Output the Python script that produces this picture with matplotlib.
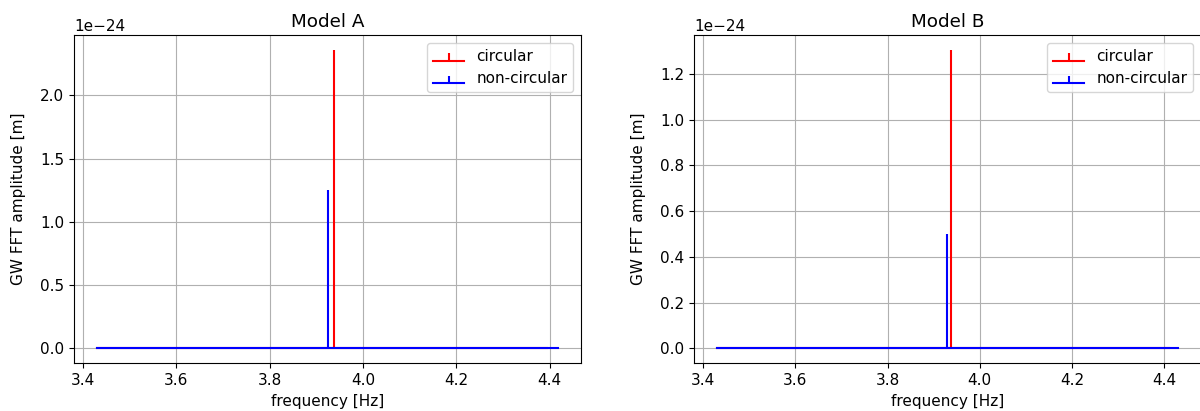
import numpy as np
import matplotlib
matplotlib.use('Agg')
import matplotlib.pyplot as plt

plt.rcParams['font.size'] = 11

# frequency grids (start, step, number of bins)
freq_circ_A = 3.43 + 0.0254 * np.arange(39)
freq_nonc_A = 3.43 + 0.026 * np.arange(39)
freq_circ_B = 3.43 + 0.01079 * np.arange(92)
freq_nonc_B = 3.43 + 0.01064 * np.arange(95)

# peak bin index and peak amplitude [m], everything else is zero
peak_idx_A = [20, 19]
peak_amp_A = [2.36e-24, 1.255e-24]
peak_idx_B = [47, 47]
peak_amp_B = [1.305e-24, 0.50e-24]

labels = ['circular', 'non-circular']
colors = ['r', 'b']
titles = ['Model A', 'Model B']


def spectrum(freq, idx, amp):
    a = np.zeros(len(freq))
    a[idx] = amp
    return a


fig, axes = plt.subplots(1, 2, figsize=(12, 4.11), dpi=100)
plt.subplots_adjust(left=0.0617, right=1.0008, bottom=0.116, top=0.915, wspace=0.223)

data = [
    [(freq_circ_A, peak_idx_A[0], peak_amp_A[0]), (freq_nonc_A, peak_idx_A[1], peak_amp_A[1])],
    [(freq_circ_B, peak_idx_B[0], peak_amp_B[0]), (freq_nonc_B, peak_idx_B[1], peak_amp_B[1])],
]

for ax, title, series in zip(axes, titles, data):
    for (f, i, a), lab, c in zip(series, labels, colors):
        ax.stem(f, spectrum(f, i, a), linefmt=c + '-', markerfmt=' ',
                basefmt=c + '-', label=lab)
    ax.set_title(title)
    ax.set_xlabel('frequency [Hz]')
    ax.set_ylabel('GW FFT amplitude [m]', labelpad=10)
    ax.grid(True)
    ax.legend(loc='upper right')

plt.savefig('out.png', dpi=100)
